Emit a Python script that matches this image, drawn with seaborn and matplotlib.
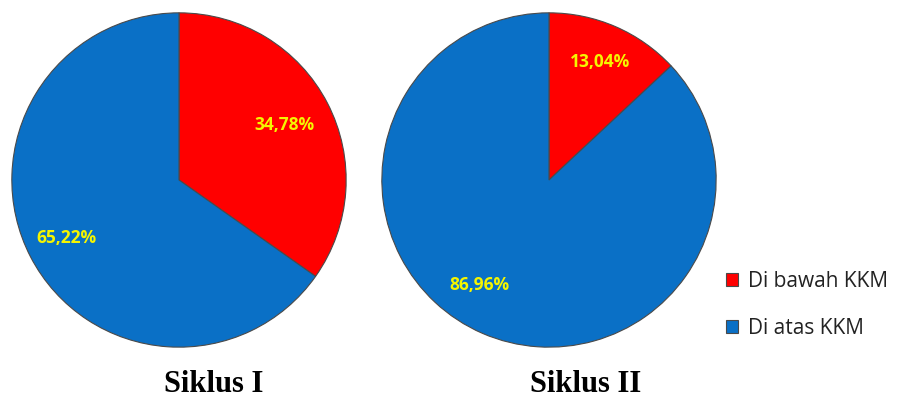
import matplotlib
matplotlib.use("Agg")
import matplotlib.pyplot as plt
import seaborn as sns
import numpy as np

sns.set_theme(style="white")

categories = ["Di bawah KKM", "Di atas KKM"]
siklus_1 = [34.78, 65.22]
siklus_2 = [13.04, 86.96]
titles = ["Siklus I", "Siklus II"]
label_text_1 = ["34,78%", "65,22%"]
label_text_2 = ["13,04%", "86,96%"]

palette = sns.color_palette(["#FF0000", "#0A70C6"])
W, H = 905, 399
fig = plt.figure(figsize=(W / 100, H / 100), dpi=100)
fig.patch.set_facecolor("white")

def draw_pie(rect, values, labels, title, title_x, label_pos):
    ax = fig.add_axes(rect)
    wedges, _ = ax.pie(values, colors=palette, startangle=90, counterclock=False,
                       radius=1.0, wedgeprops=dict(edgecolor="#4a4a4a", linewidth=0.8))
    # labels placed along each wedge's bisector
    for w, txt, (ang_off, dist) in zip(wedges, labels, label_pos):
        mid = np.deg2rad((w.theta1 + w.theta2) / 2 + ang_off)
        ax.text(dist * np.cos(mid), dist * np.sin(mid), txt, ha="center", va="center",
                color="#F5F500", fontsize=12.5, fontweight="bold", family="Open Sans")
    ax.set_xlim(-1.005, 1.005)
    ax.set_ylim(-1.005, 1.005)
    ax.set_aspect("equal")
    ax.axis("off")
    fig.text(title_x / W, 1 - 384 / H, title, ha="center", va="center",
             fontsize=22, fontweight="bold", family="Liberation Serif", color="black")
    return wedges

wedges = draw_pie([11 / W, 51 / H, 336 / W, 336 / H], siklus_1, label_text_1,
                  titles[0], 214, [(0, 0.71), (0, 0.76)])
draw_pie([381 / W, 51 / H, 336 / W, 336 / H], siklus_2, label_text_2,
         titles[1], 586, [(0, 0.77), (-10, 0.75)])

leg = fig.legend(wedges, categories, loc="upper left",
                 bbox_to_anchor=(707 / W, 1 - 252 / H), frameon=False,
                 prop=dict(family="Open Sans", size=15), handlelength=0.6,
                 handleheight=0.6, handletextpad=0.45, labelspacing=1.25)
for t in leg.get_texts():
    t.set_color("#222222")

fig.savefig("out.png", dpi=100, facecolor="white")
